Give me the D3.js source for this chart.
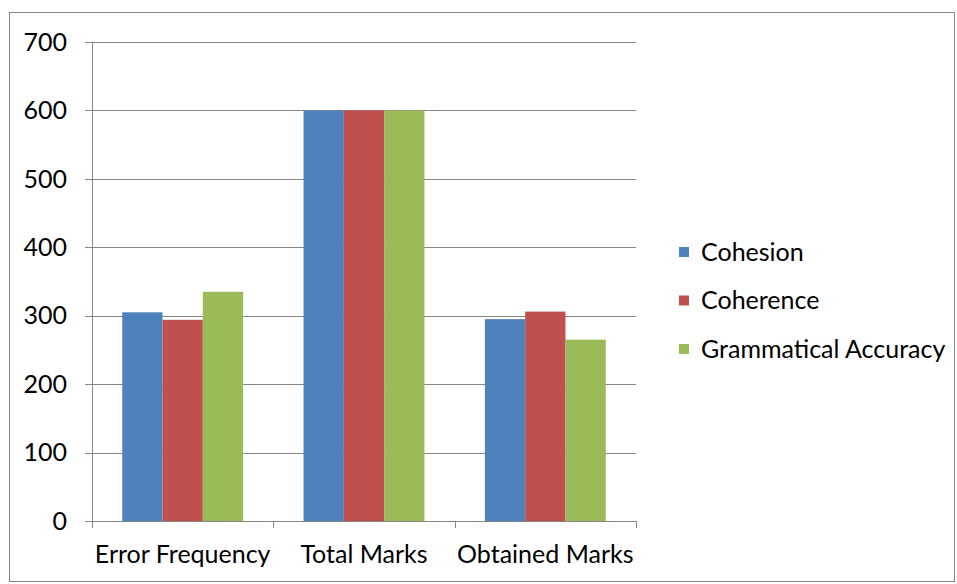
<!DOCTYPE html>
<html>
<head>
<meta charset="utf-8">
<script src="https://cdn.jsdelivr.net/npm/d3@7"></script>
<style>
  body { margin: 0; background: #fff; }
  text { font-family: Lato, "Open Sans", sans-serif; fill: #000; }
</style>
</head>
<body>
<div class="app"></div>
<script>
'use strict'

// categories and series
var categories = ["Error Frequency", "Total Marks", "Obtained Marks"];
var seriesNames = ["Cohesion", "Coherence", "Grammatical Accuracy"];
var seriesColors = ["#4f81bd", "#c0504d", "#9bbb59"];
var cohesion = [305, 600, 295];
var coherence = [294, 600, 306];
var grammatical = [335, 600, 265];
var yTicks = [0, 100, 200, 300, 400, 500, 600, 700];

var seriesValues = [cohesion, coherence, grammatical];

var width = 957, height = 584;
var plot = { left: 92, right: 636, top: 42, bottom: 521 };

var svg = d3.select(".app").append("svg")
  .attr("width", width)
  .attr("height", height);

// outer frame
svg.append("rect")
  .attr("x", 9.5).attr("y", 12.5)
  .attr("width", 945).attr("height", 569)
  .attr("fill", "none")
  .attr("stroke", "#868686")
  .attr("stroke-width", 1);

var x = d3.scaleBand().domain(categories).range([plot.left, plot.right]).paddingInner(0).paddingOuter(0);
var y = d3.scaleLinear().domain([0, 700]).range([plot.bottom, plot.top]);
var xInner = d3.scaleBand().domain(d3.range(seriesNames.length))
  .range([0, x.bandwidth()]).paddingInner(0).paddingOuter(0.75);

// gridlines with tick marks
var grid = svg.append("g");
grid.selectAll("line").data(yTicks).enter().append("line")
  .attr("x1", plot.left - 7)
  .attr("x2", plot.right)
  .attr("y1", function(d) { return Math.round(y(d)) + 0.5; })
  .attr("y2", function(d) { return Math.round(y(d)) + 0.5; })
  .attr("stroke", "#868686")
  .attr("stroke-width", 1);

grid.selectAll("text").data(yTicks).enter().append("text")
  .attr("x", 67)
  .attr("y", function(d) { return y(d); })
  .attr("dy", "0.35em")
  .attr("text-anchor", "end")
  .style("font-size", "25px")
  .text(function(d) { return d; });

// bars
var groups = svg.append("g").selectAll("g").data(categories).enter().append("g")
  .attr("transform", function(d) { return "translate(" + x(d) + ",0)"; });

groups.selectAll("rect")
  .data(function(d, i) { return seriesValues.map(function(s, j) { return { j: j, v: s[i] }; }); })
  .enter().append("rect")
  .attr("x", function(d) { return xInner(d.j); })
  .attr("width", xInner.bandwidth())
  .attr("y", function(d) { return y(d.v); })
  .attr("height", function(d) { return y(0) - y(d.v); })
  .attr("fill", function(d) { return seriesColors[d.j]; });

// axes lines
svg.append("line")
  .attr("x1", plot.left + 0.5).attr("x2", plot.left + 0.5)
  .attr("y1", plot.top).attr("y2", plot.bottom + 7)
  .attr("stroke", "#868686");
svg.append("line")
  .attr("x1", plot.left).attr("x2", plot.right)
  .attr("y1", plot.bottom + 0.5).attr("y2", plot.bottom + 0.5)
  .attr("stroke", "#868686");

// category tick marks
var bounds = categories.map(function(c) { return x(c) + x.bandwidth(); });
svg.append("g").selectAll("line").data(bounds).enter().append("line")
  .attr("x1", function(d) { return Math.round(d) + 0.5; })
  .attr("x2", function(d) { return Math.round(d) + 0.5; })
  .attr("y1", plot.bottom).attr("y2", plot.bottom + 7)
  .attr("stroke", "#868686");

svg.append("g").selectAll("text").data(categories).enter().append("text")
  .attr("x", function(d) { return x(d) + x.bandwidth() / 2; })
  .attr("y", 563)
  .attr("text-anchor", "middle")
  .style("font-size", "25px")
  .text(function(d) { return d; });

// legend
var legend = svg.append("g").selectAll("g").data(seriesNames).enter().append("g")
  .attr("transform", function(d, i) { return "translate(679," + (252 + i * 48.5) + ")"; });
legend.append("rect")
  .attr("x", 0).attr("y", -5)
  .attr("width", 10).attr("height", 10)
  .attr("fill", function(d, i) { return seriesColors[i]; });
legend.append("text")
  .attr("x", 22).attr("y", 0)
  .attr("dy", "0.35em")
  .style("font-size", "25px")
  .text(function(d) { return d; });
</script>
</body>
</html>
